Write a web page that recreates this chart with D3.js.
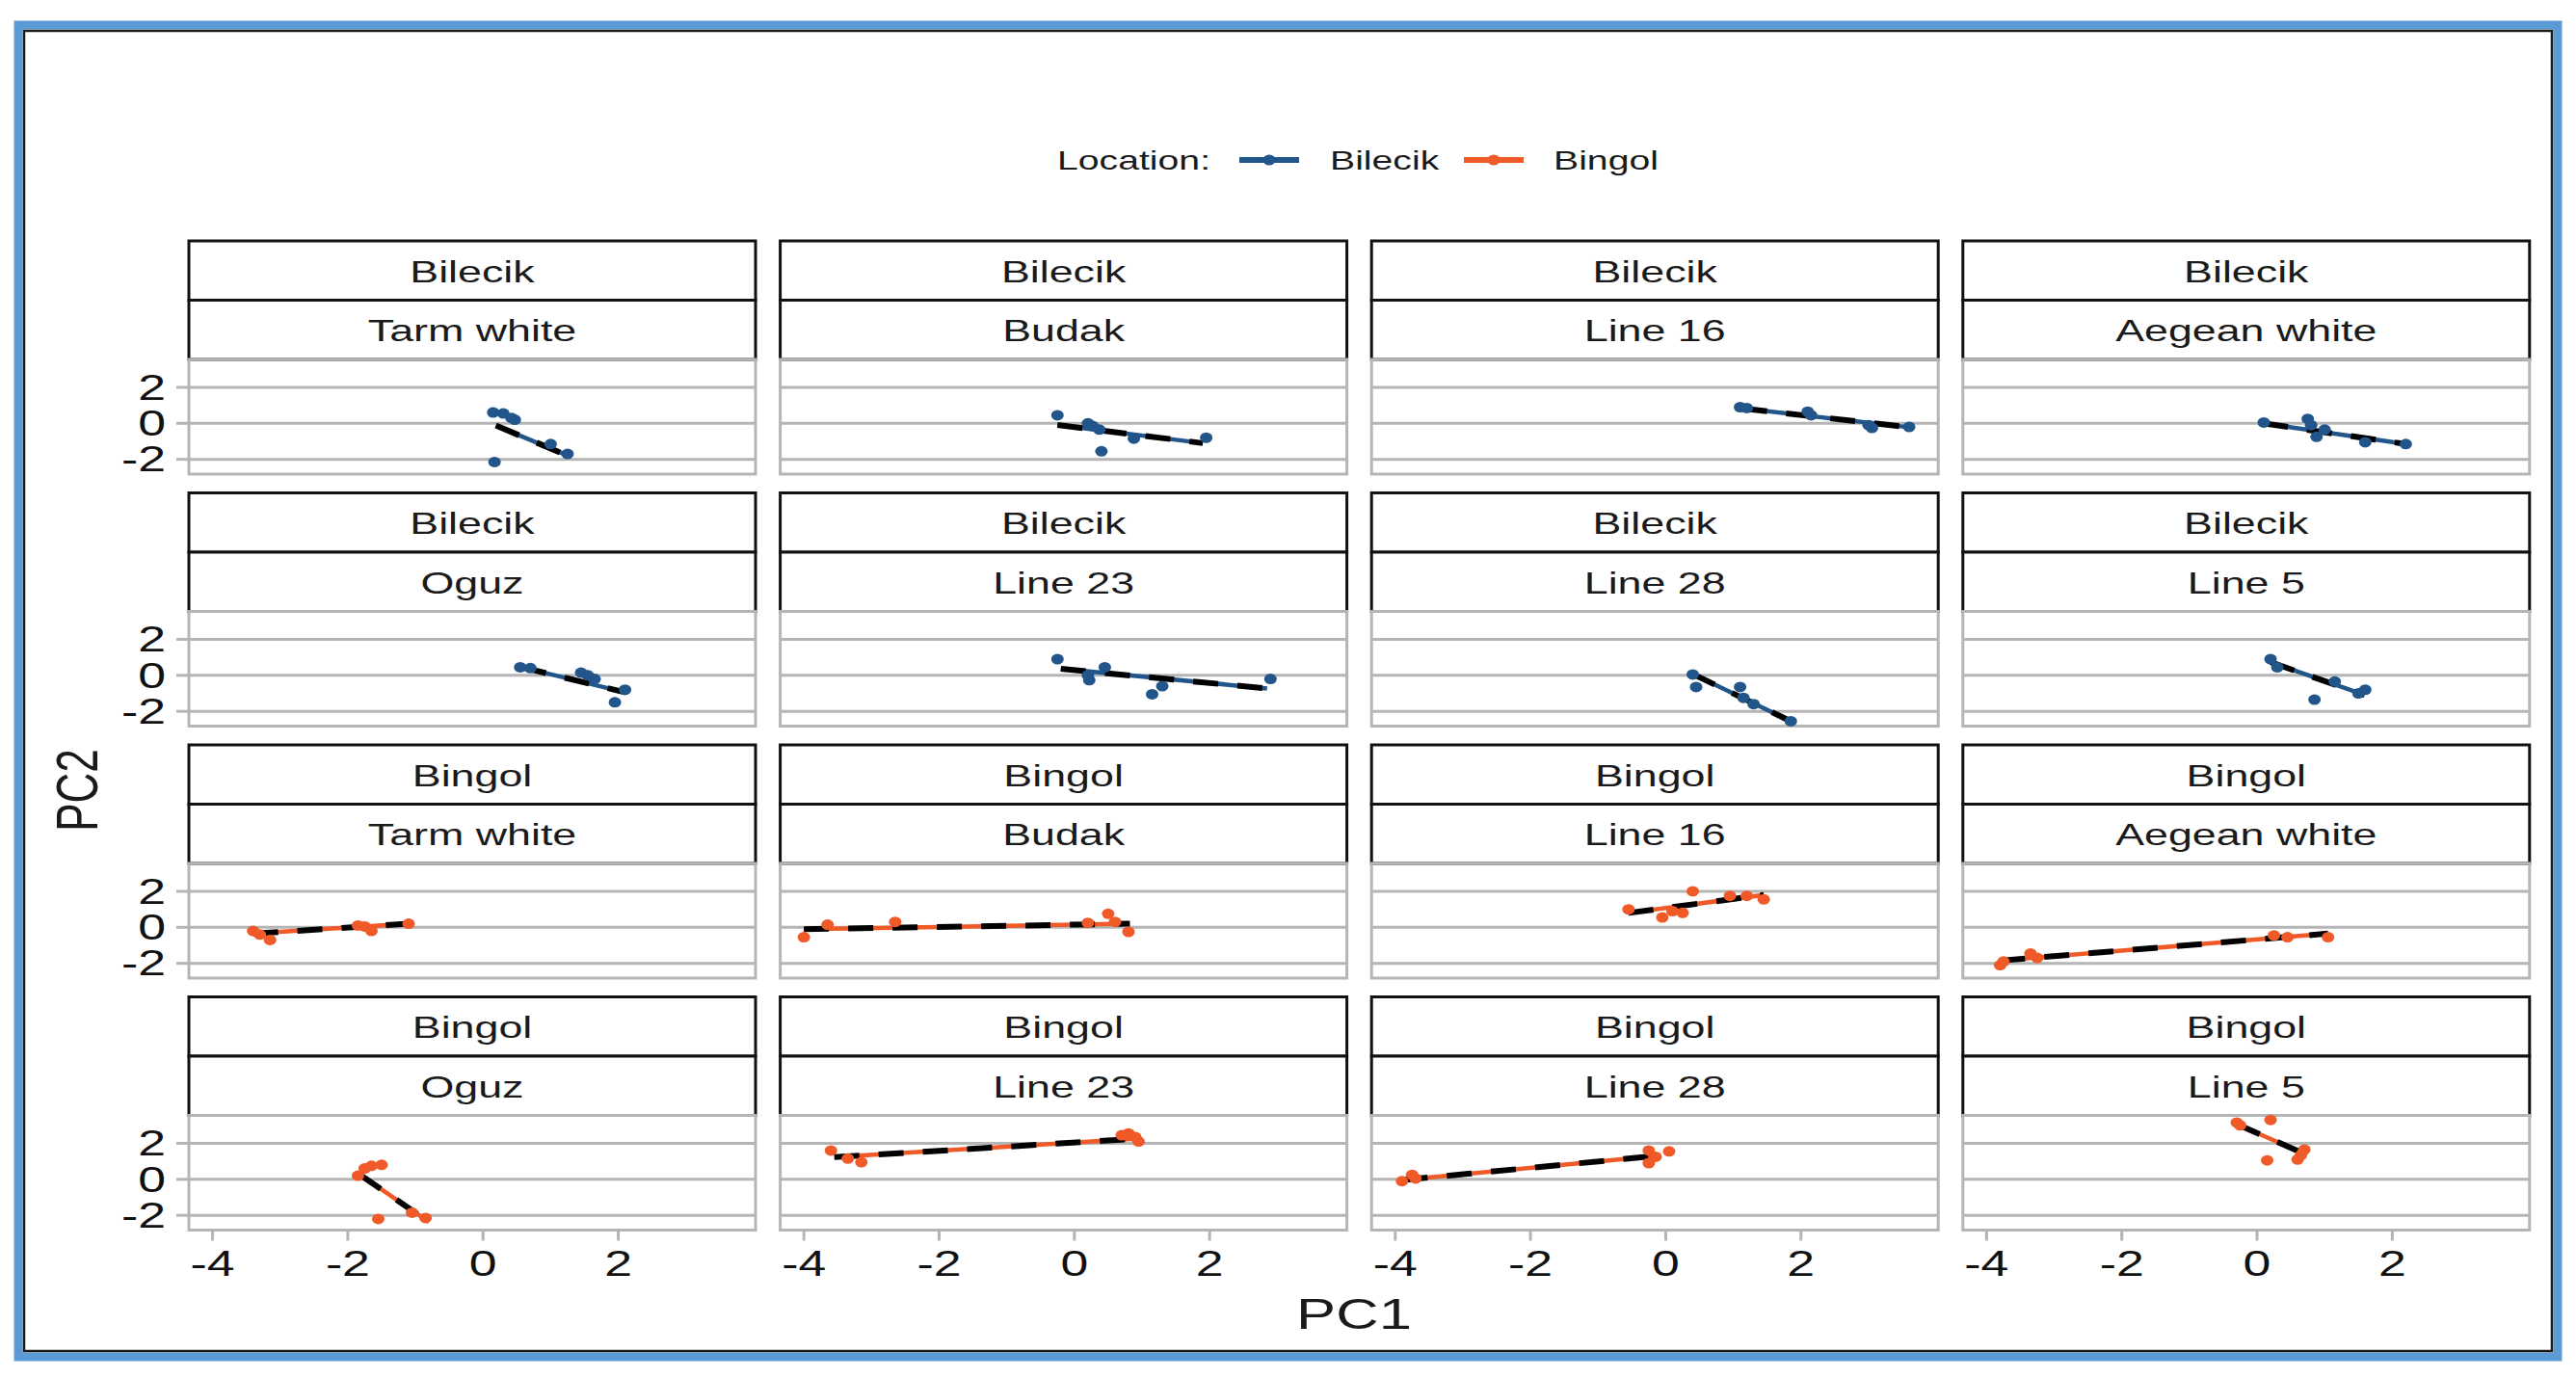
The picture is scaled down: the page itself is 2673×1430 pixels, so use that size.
<!DOCTYPE html>
<html>
<head>
<meta charset="utf-8">
<script src="https://cdn.jsdelivr.net/npm/d3@7"></script>
<style>
  html, body { margin: 0; padding: 0; background: #ffffff; }
  svg { display: block; }
  text { font-family: "Liberation Sans", Arial, sans-serif; }
</style>
</head>
<body>
<script>
// ---------------- DATA ----------------
const locations = ["Bilecik", "Bingol"];
const locationColors = ["#22568b", "#f05a28"];
const varieties = ["Tarm white", "Budak", "Line 16", "Aegean white", "Oguz", "Line 23", "Line 28", "Line 5"];
const xTicks = [-4, -2, 0, 2];
const yTicks = [-2, 0, 2];
const xTitle = "PC1";
const yTitle = "PC2";
const legendTitle = "Location:";

// points [PC1, PC2] per variety (same order as varieties)
const bilecikPoints = [
  [[0.15,0.6],[0.3,0.55],[0.42,0.3],[0.47,0.2],[0.17,-2.15],[1.0,-1.15],[1.25,-1.7]],
  [[-0.25,0.45],[0.2,0.0],[0.27,-0.15],[0.37,-0.35],[0.4,-1.55],[0.88,-0.85],[1.95,-0.8]],
  [[1.1,0.9],[1.2,0.85],[2.1,0.65],[2.15,0.45],[3.0,-0.1],[3.05,-0.25],[3.6,-0.2]],
  [[0.1,0.05],[0.75,0.25],[0.8,-0.1],[0.88,-0.75],[1.0,-0.35],[1.6,-1.05],[2.2,-1.15]],
  [[0.55,0.45],[0.7,0.4],[1.45,0.15],[1.55,0.0],[1.65,-0.2],[2.1,-0.8],[1.95,-1.5]],
  [[-0.25,0.9],[0.2,0.0],[0.22,-0.27],[0.45,0.45],[1.15,-1.05],[1.3,-0.6],[2.9,-0.2]],
  [[0.4,0.05],[0.45,-0.65],[1.1,-0.65],[1.15,-1.25],[1.3,-1.6],[1.85,-2.55]],
  [[0.2,0.9],[0.3,0.45],[0.85,-1.35],[1.15,-0.35],[1.5,-1.0],[1.6,-0.8]]
];
const bingolPoints = [
  [[-3.4,-0.2],[-3.3,-0.4],[-3.15,-0.7],[-1.85,0.1],[-1.75,0.05],[-1.65,-0.2],[-1.1,0.2]],
  [[-4.0,-0.55],[-3.65,0.15],[-2.65,0.3],[0.2,0.25],[0.5,0.75],[0.6,0.3],[0.8,-0.25]],
  [[-0.55,1.0],[-0.05,0.55],[0.1,0.9],[0.25,0.8],[0.4,2.0],[0.95,1.75],[1.2,1.75],[1.45,1.55]],
  [[-3.8,-2.1],[-3.75,-1.9],[-3.35,-1.45],[-3.25,-1.7],[0.25,-0.45],[0.45,-0.55],[1.05,-0.55]],
  [[-1.85,0.2],[-1.75,0.6],[-1.65,0.75],[-1.5,0.8],[-1.55,-2.2],[-1.05,-1.85],[-0.85,-2.15]],
  [[-3.6,1.6],[-3.35,1.15],[-3.15,0.95],[0.7,2.45],[0.8,2.55],[0.9,2.35],[0.95,2.1]],
  [[-3.9,-0.1],[-3.75,0.25],[-3.7,0.05],[-0.25,1.6],[-0.25,0.9],[-0.15,1.25],[0.05,1.55]],
  [[-0.3,3.15],[-0.25,3.0],[0.2,3.3],[0.15,1.05],[0.6,1.1],[0.65,1.35],[0.7,1.65]]
];
// fitted line end points [x1, y1, x2, y2] per variety
const bilecikFits = [
  [0.19,-0.12,1.23,-1.76],
  [-0.25,-0.09,1.9,-1.1],
  [1.13,0.83,3.63,-0.23],
  [0.09,0.0,2.2,-1.15],
  [0.57,0.45,2.11,-0.95],
  [-0.2,0.36,2.85,-0.73],
  [0.39,0.09,1.85,-2.55],
  [0.2,0.73,1.59,-1.09]
];
const bingolFits = [
  [-3.4,-0.35,-1.1,0.2],
  [-4.0,-0.1,0.82,0.2],
  [-0.55,0.8,1.45,1.8],
  [-3.8,-1.85,1.05,-0.35],
  [-1.82,0.26,-0.8,-2.37],
  [-3.55,1.23,0.9,2.25],
  [-3.89,-0.04,-0.09,1.32],
  [-0.3,3.07,0.6,1.58]
];

// ---------------- LAYOUT ----------------
const W = 2673, H = 1430;
const SX = 1.4;                // horizontal stretch of the original picture
const colLeft0 = 196, colPitch = 613.6, panelW = 588;
const rowTop0 = 250, rowPitch = 261.5, stripH = 61.5, plotH = 119;
const gridColor = "#b5b5b5";

const svg = d3.select("body").append("svg")
  .attr("width", W).attr("height", H);

svg.append("rect").attr("width", W).attr("height", H).attr("fill", "#ffffff");

// outer frame
svg.append("rect").attr("x", 19).attr("y", 26).attr("width", W - 38).attr("height", H - 48)
  .attr("fill", "none").attr("stroke", "#5b9bd5").attr("stroke-width", 9);
svg.append("rect").attr("x", 25).attr("y", 32).attr("width", W - 50).attr("height", H - 60)
  .attr("fill", "none").attr("stroke", "#1a1a1a").attr("stroke-width", 2.5);

function txt(g, x, y, s, size, anchor, rot, color) {
  return g.append("text")
    .attr("transform", `translate(${x},${y}) scale(${SX},1)` + (rot ? " rotate(-90)" : ""))
    .attr("text-anchor", anchor || "middle")
    .attr("dominant-baseline", "central")
    .attr("font-size", size)
    .attr("fill", color || "#1a1a1a")
    .text(s);
}

const x = d3.scaleLinear().domain([-4.35, 4.03]).range([0, panelW]);
const y = d3.scaleLinear().domain([-2.82, 3.55]).range([plotH, 0]);

// ---------------- LEGEND ----------------
const lg = svg.append("g");
txt(lg, 1097, 166, legendTitle, 28, "start");
const keyX = [1286, 1519];
const labX = [1380, 1612];
locations.forEach((loc, i) => {
  lg.append("line").attr("x1", keyX[i]).attr("x2", keyX[i] + 62)
    .attr("y1", 166).attr("y2", 166)
    .attr("stroke", locationColors[i]).attr("stroke-width", 6);
  lg.append("ellipse").attr("cx", keyX[i] + 31).attr("cy", 166).attr("rx", 6.5).attr("ry", 5.5)
    .attr("fill", locationColors[i]);
  txt(lg, labX[i], 166, loc, 28, "start");
});

// ---------------- PANELS ----------------
const pointSets = [bilecikPoints, bingolPoints];
const fitSets = [bilecikFits, bingolFits];

for (let li = 0; li < 2; li++) {
  for (let vi = 0; vi < varieties.length; vi++) {
    const row = li * 2 + Math.floor(vi / 4);
    const col = vi % 4;
    const left = colLeft0 + col * colPitch;
    const top = rowTop0 + row * rowPitch;
    const g = svg.append("g").attr("transform", `translate(${left},${top})`);

    // strips
    [locations[li], varieties[vi]].forEach((lab, k) => {
      g.append("rect").attr("x", 0).attr("y", k * stripH).attr("width", panelW).attr("height", stripH)
        .attr("fill", "#ffffff").attr("stroke", "#111111").attr("stroke-width", 3);
      txt(g, panelW / 2, k * stripH + stripH / 2 + 1, lab, 32, "middle");
    });

    const p = g.append("g").attr("transform", `translate(0,${2 * stripH})`);
    // gridlines
    p.selectAll("line.grid").data(yTicks).join("line")
      .attr("x1", 0).attr("x2", panelW)
      .attr("y1", d => y(d)).attr("y2", d => y(d))
      .attr("stroke", gridColor).attr("stroke-width", 3);
    // panel border
    p.append("rect").attr("x", 0).attr("y", 0).attr("width", panelW).attr("height", plotH)
      .attr("fill", "none").attr("stroke", gridColor).attr("stroke-width", 3);

    // y axis (first column)
    if (col === 0) {
      p.selectAll("line.ytick").data(yTicks).join("line")
        .attr("x1", -13).attr("x2", 0)
        .attr("y1", d => y(d)).attr("y2", d => y(d))
        .attr("stroke", gridColor).attr("stroke-width", 3);
      yTicks.forEach(t => txt(p, -24, y(t), String(t), 37, "end", false, "#111"));
    }
    // x axis (bottom row)
    if (row === 3) {
      p.selectAll("line.xtick").data(xTicks).join("line")
        .attr("x1", d => x(d)).attr("x2", d => x(d))
        .attr("y1", plotH).attr("y2", plotH + 11)
        .attr("stroke", gridColor).attr("stroke-width", 3);
      xTicks.forEach(t => txt(p, x(t), plotH + 35, String(t), 37, "middle", false, "#111"));
    }

    const color = locationColors[li];
    const f = fitSets[li][vi];
    // colored fit line
    p.append("line")
      .attr("x1", x(f[0])).attr("y1", y(f[1])).attr("x2", x(f[2])).attr("y2", y(f[3]))
      .attr("stroke", color).attr("stroke-width", 4.5);
    // black dashed fit line
    p.append("line")
      .attr("x1", x(f[0])).attr("y1", y(f[1])).attr("x2", x(f[2])).attr("y2", y(f[3]))
      .attr("stroke", "#000000").attr("stroke-width", 6)
      .attr("stroke-dasharray", "26,20");
    // points
    p.selectAll("ellipse.pt").data(pointSets[li][vi]).join("ellipse")
      .attr("cx", d => x(d[0])).attr("cy", d => y(d[1]))
      .attr("rx", 6.5).attr("ry", 5.5)
      .attr("fill", color);
  }
}

// ---------------- AXIS TITLES ----------------
txt(svg, 1405, 1364, xTitle, 44, "middle");
txt(svg, 80, 820, yTitle, 44, "middle", true);
</script>
</body>
</html>
